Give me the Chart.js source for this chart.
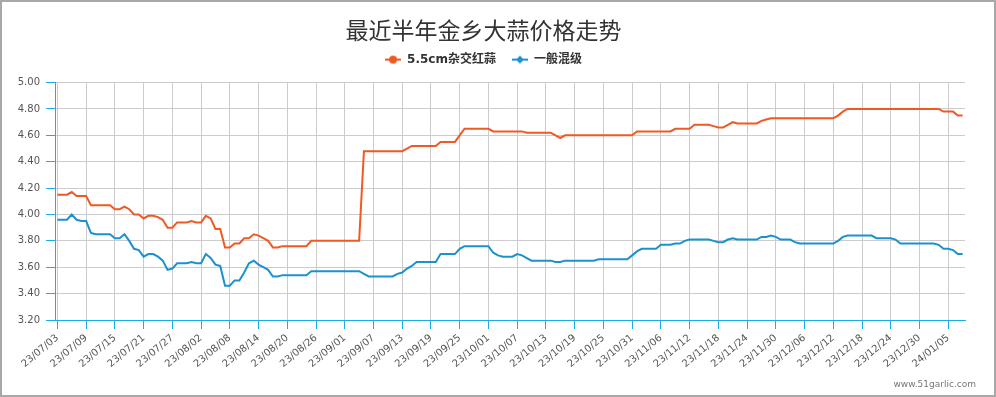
<!DOCTYPE html>
<html>
<head>
<meta charset="utf-8">
<title>最近半年金乡大蒜价格走势</title>
<script src="https://cdn.jsdelivr.net/npm/chart.js@4.4.0/dist/chart.umd.min.js"></script>
<style>
  html, body { margin: 0; padding: 0; background: #fff; }
  #box { width: 996px; height: 397px; box-sizing: border-box; border: 2px solid #a8a8a8; }
  canvas { display: block; }
</style>
</head>
<body>
<div id="box"><canvas id="chart" width="992" height="393"></canvas></div>
<script>
// daily dates, 23/07/03 .. 24/01/08
const firstDay = new Date(2023, 6, 3);
const dayCount = 190;
const dates = [];
for (let i = 0; i < dayCount; i++) {
    const d = new Date(firstDay.getFullYear(), firstDay.getMonth(), firstDay.getDate() + i);
    const p = n => String(n).padStart(2, '0');
    dates.push(p(d.getFullYear() % 100) + '/' + p(d.getMonth() + 1) + '/' + p(d.getDate()));
}

const seriesNames = ['5.5cm杂交红蒜', '一般混级'];

// 5.5cm杂交红蒜
const redGarlic = [
    4.15, 4.15, 4.15, 4.17, 4.14, 4.14, 4.14, 4.07, 4.07, 4.07,
    4.07, 4.07, 4.04, 4.04, 4.06, 4.04, 4.00, 4.00, 3.97, 3.99,
    3.99, 3.98, 3.96, 3.90, 3.90, 3.94, 3.94, 3.94, 3.95, 3.94,
    3.94, 3.99, 3.97, 3.89, 3.89, 3.75, 3.75, 3.78, 3.78, 3.82,
    3.82, 3.85, 3.84, 3.82, 3.80, 3.75, 3.75, 3.76, 3.76, 3.76,
    3.76, 3.76, 3.76, 3.80, 3.80, 3.80, 3.80, 3.80, 3.80, 3.80,
    3.80, 3.80, 3.80, 3.80, 4.48, 4.48, 4.48, 4.48, 4.48, 4.48,
    4.48, 4.48, 4.48, 4.50, 4.52, 4.52, 4.52, 4.52, 4.52, 4.52,
    4.55, 4.55, 4.55, 4.55, 4.60, 4.65, 4.65, 4.65, 4.65, 4.65,
    4.65, 4.63, 4.63, 4.63, 4.63, 4.63, 4.63, 4.63, 4.62, 4.62,
    4.62, 4.62, 4.62, 4.62, 4.60, 4.58, 4.60, 4.60, 4.60, 4.60,
    4.60, 4.60, 4.60, 4.60, 4.60, 4.60, 4.60, 4.60, 4.60, 4.60,
    4.60, 4.63, 4.63, 4.63, 4.63, 4.63, 4.63, 4.63, 4.63, 4.65,
    4.65, 4.65, 4.65, 4.68, 4.68, 4.68, 4.68, 4.67, 4.66, 4.66,
    4.68, 4.70, 4.69, 4.69, 4.69, 4.69, 4.69, 4.71, 4.72, 4.73,
    4.73, 4.73, 4.73, 4.73, 4.73, 4.73, 4.73, 4.73, 4.73, 4.73,
    4.73, 4.73, 4.73, 4.75, 4.78, 4.80, 4.80, 4.80, 4.80, 4.80,
    4.80, 4.80, 4.80, 4.80, 4.80, 4.80, 4.80, 4.80, 4.80, 4.80,
    4.80, 4.80, 4.80, 4.80, 4.80, 4.78, 4.78, 4.78, 4.75, 4.75
];

// 一般混级
const mixedGrade = [
    3.96, 3.96, 3.96, 4.00, 3.96, 3.95, 3.95, 3.86, 3.85, 3.85,
    3.85, 3.85, 3.82, 3.82, 3.85, 3.80, 3.74, 3.73, 3.68, 3.70,
    3.70, 3.68, 3.65, 3.58, 3.59, 3.63, 3.63, 3.63, 3.64, 3.63,
    3.63, 3.70, 3.67, 3.62, 3.61, 3.46, 3.46, 3.50, 3.50, 3.56,
    3.63, 3.65, 3.62, 3.60, 3.58, 3.53, 3.53, 3.54, 3.54, 3.54,
    3.54, 3.54, 3.54, 3.57, 3.57, 3.57, 3.57, 3.57, 3.57, 3.57,
    3.57, 3.57, 3.57, 3.57, 3.55, 3.53, 3.53, 3.53, 3.53, 3.53,
    3.53, 3.55, 3.56, 3.59, 3.61, 3.64, 3.64, 3.64, 3.64, 3.64,
    3.70, 3.70, 3.70, 3.70, 3.74, 3.76, 3.76, 3.76, 3.76, 3.76,
    3.76, 3.71, 3.69, 3.68, 3.68, 3.68, 3.70, 3.69, 3.67, 3.65,
    3.65, 3.65, 3.65, 3.65, 3.64, 3.64, 3.65, 3.65, 3.65, 3.65,
    3.65, 3.65, 3.65, 3.66, 3.66, 3.66, 3.66, 3.66, 3.66, 3.66,
    3.69, 3.72, 3.74, 3.74, 3.74, 3.74, 3.77, 3.77, 3.77, 3.78,
    3.78, 3.80, 3.81, 3.81, 3.81, 3.81, 3.81, 3.80, 3.79, 3.79,
    3.81, 3.82, 3.81, 3.81, 3.81, 3.81, 3.81, 3.83, 3.83, 3.84,
    3.83, 3.81, 3.81, 3.81, 3.79, 3.78, 3.78, 3.78, 3.78, 3.78,
    3.78, 3.78, 3.78, 3.80, 3.83, 3.84, 3.84, 3.84, 3.84, 3.84,
    3.84, 3.82, 3.82, 3.82, 3.82, 3.81, 3.78, 3.78, 3.78, 3.78,
    3.78, 3.78, 3.78, 3.78, 3.77, 3.74, 3.74, 3.73, 3.70, 3.70
];

const yTicks = [3.2, 3.4, 3.6, 3.8, 4.0, 4.2, 4.4, 4.6, 4.8, 5.0];

const ORANGE = '#ef5a24';
const BLUE = '#1b91cf';
const AXIS = '#1aaee8';

// legend marker: short line with a dot (circle / diamond)
function makeMarker(color, shape) {
    const c = document.createElement('canvas');
    c.width = 16; c.height = 10;
    const g = c.getContext('2d');
    g.strokeStyle = color; g.fillStyle = color; g.lineWidth = 2;
    g.beginPath(); g.moveTo(0, 5); g.lineTo(16, 5); g.stroke();
    g.beginPath();
    if (shape === 'circle') {
        g.arc(8, 5, 4, 0, Math.PI * 2);
    } else {
        g.moveTo(8, 1); g.lineTo(12, 5); g.lineTo(8, 9); g.lineTo(4, 5); g.closePath();
    }
    g.fill();
    return c;
}
const markers = [makeMarker(ORANGE, 'circle'), makeMarker(BLUE, 'diamond')];

const watermark = {
    id: 'watermark',
    afterDraw(chart) {
        const ctx = chart.ctx;
        ctx.save();
        ctx.font = '9px "DejaVu Sans"';
        ctx.fillStyle = '#777';
        ctx.textAlign = 'right';
        ctx.textBaseline = 'middle';
        ctx.fillText('www.51garlic.com', 974, 383);
        ctx.restore();
    }
};

Chart.defaults.font.family = '"DejaVu Sans", "Noto Sans CJK SC", sans-serif';

new Chart(document.getElementById('chart'), {
    type: 'line',
    data: {
        labels: dates,
        datasets: [
            { label: seriesNames[0], data: redGarlic, borderColor: ORANGE, backgroundColor: ORANGE },
            { label: seriesNames[1], data: mixedGrade, borderColor: BLUE, backgroundColor: BLUE }
        ].map(ds => Object.assign(ds, { borderWidth: 2, pointRadius: 0, tension: 0, fill: false }))
    },
    options: {
        responsive: false,
        animation: false,
        layout: { padding: { left: 0, right: 29, top: 0, bottom: 0 } },
        plugins: {
            title: {
                display: true,
                text: '最近半年金乡大蒜价格走势',
                color: '#333',
                font: { family: '"Noto Sans CJK SC"', size: 23, weight: 'normal' },
                padding: { top: 14, bottom: -6 }
            },
            legend: {
                labels: {
                    usePointStyle: true,
                    pointStyleWidth: 16,
                    padding: 16,
                    color: '#333',
                    font: { size: 12, weight: 'bold' },
                    generateLabels(chart) {
                        const items = Chart.defaults.plugins.legend.labels.generateLabels(chart);
                        items.forEach((it, i) => { it.pointStyle = markers[i]; });
                        return items;
                    }
                }
            },
            tooltip: { enabled: false }
        },
        scales: {
            x: {
                offset: true,
                grid: { offset: false, color: '#ccc', tickColor: AXIS, tickLength: 9 },
                border: { color: AXIS },
                ticks: {
                    autoSkip: false,
                    minRotation: 40,
                    maxRotation: 40,
                    padding: 3,
                    color: '#555',
                    font: { size: 10 },
                    callback(v, i) { return i % 6 === 0 ? this.getLabelForValue(v) : null; }
                },
                afterFit(s) { s.height = 75; }
            },
            // empty strip between the legend and the plot
            xTop: {
                type: 'category',
                position: 'top',
                grid: { display: false, drawTicks: false },
                border: { display: false },
                ticks: { display: false },
                afterFit(s) { s.height = 7; }
            },
            y: {
                min: yTicks[0],
                max: yTicks[yTicks.length - 1],
                grid: { color: '#ccc', tickColor: AXIS, tickLength: 9 },
                border: { color: AXIS },
                ticks: {
                    stepSize: 0.2,
                    padding: 6,
                    color: '#555',
                    font: { size: 10 },
                    callback: v => v.toFixed(2)
                },
                afterFit(s) { s.width = 53; }
            }
        }
    },
    plugins: [watermark]
});
</script>
</body>
</html>
